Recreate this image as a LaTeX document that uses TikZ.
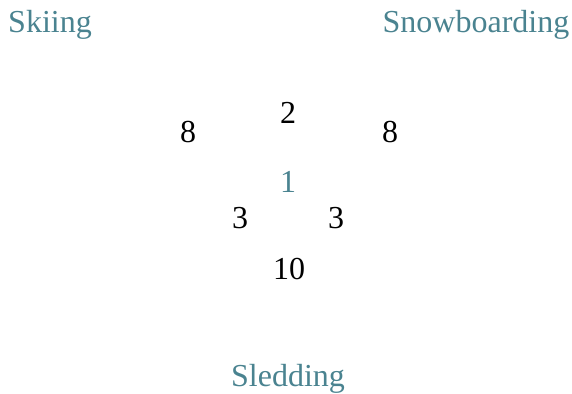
\documentclass[tikz,border=0pt]{standalone}
\usepackage{fontspec}
\setmainfont{Liberation Serif}
\definecolor{teal1}{HTML}{4A8390}
\begin{document}
\begin{tikzpicture}[x=1pt,y=-1pt,
  lbl/.style={anchor=base,inner sep=0pt,font=\fontsize{32}{36}\selectfont,text=teal1},
  num/.style={anchor=base,inner sep=0pt,font=\fontsize{32}{36}\selectfont,text=black}]
\useasboundingbox (0,0) rectangle (572,393);
\node[lbl] (ski) at (50,33) {Skiing};
\node[lbl] (snow) at (476,33) {Snowboarding};
\node[lbl] (sled) at (288,386) {Sledding};
\node[num] (ab) at (288,124) {2};
\node[num] (a) at (188,142) {8};
\node[num] (b) at (390,142) {8};
\node[lbl] (abc) at (288,192) {1};
\node[num] (ac) at (240,228) {3};
\node[num] (bc) at (336,228) {3};
\node[num] (c) at (289,279) {10};
\end{tikzpicture}
\end{document}
